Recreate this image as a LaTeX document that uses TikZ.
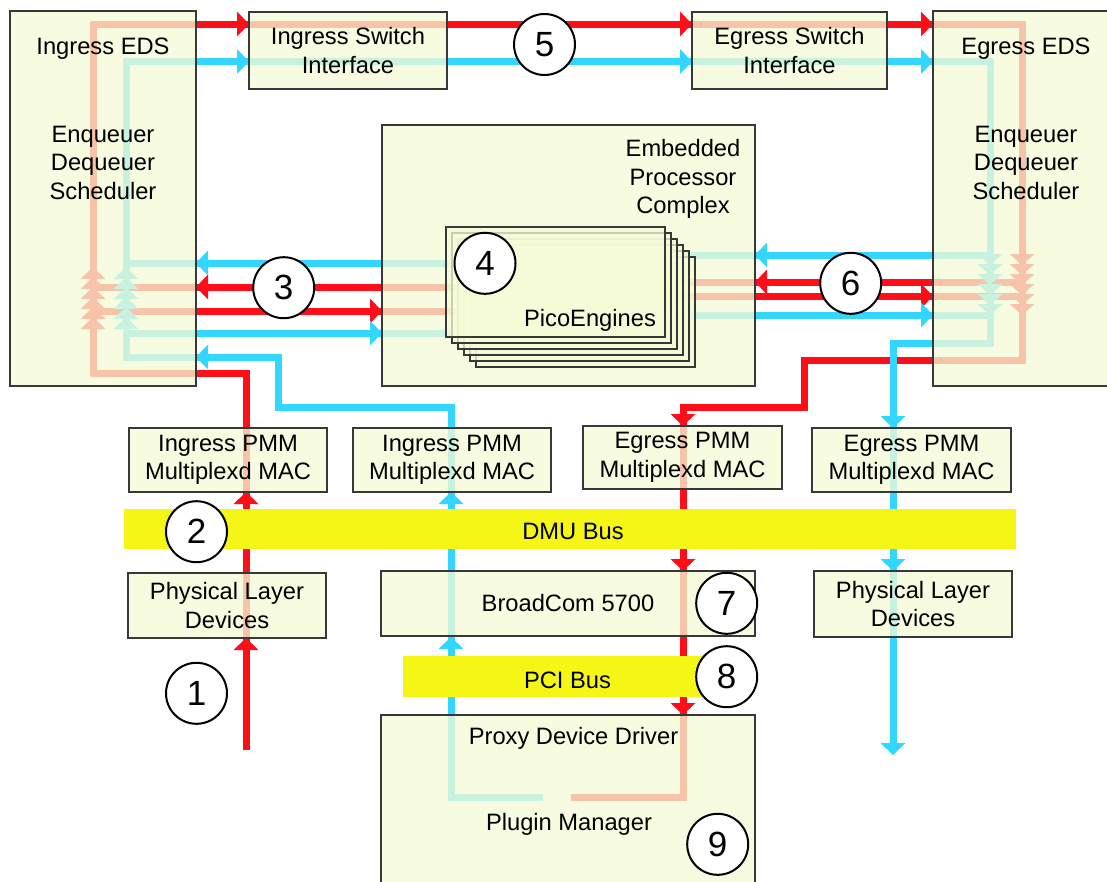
\documentclass[tikz,border=0pt]{standalone}
\usepackage{fontspec}
\setmainfont{Liberation Sans}
\usetikzlibrary{arrows.meta}
\definecolor{redl}{RGB}{255,14,26}
\definecolor{bluel}{RGB}{51,214,255}
\definecolor{boxfill}{RGB}{245,251,214}
\definecolor{boxline}{RGB}{56,56,56}
\definecolor{busfill}{RGB}{246,246,22}
\newcommand\diagfont{\fontsize{23.7}{28.5}\selectfont}
\newcommand\numfont{\fontsize{35}{40}\selectfont}
\newcommand\tipR[2]{\fill[#1] (#2) -- ++(-12,-12.5) -- ++(0,25) -- cycle;}
\newcommand\tipL[2]{\fill[#1] (#2) -- ++(12,-12.5) -- ++(0,25) -- cycle;}
\newcommand\tipU[2]{\fill[#1] (#2) -- ++(-12.5,12) -- ++(25,0) -- cycle;}
\newcommand\tipD[2]{\fill[#1] (#2) -- ++(-12.5,-12) -- ++(25,0) -- cycle;}
\begin{document}
\begin{tikzpicture}[x=1pt,y=-1pt,
  redline/.style={draw=redl,line width=7pt,line join=miter},
  blueline/.style={draw=bluel,line width=7pt,line join=miter},
  box/.style={draw=boxline,line width=2.6pt,fill=boxfill,fill opacity=0.77,text opacity=1,draw opacity=1,inner sep=0pt,align=center,font=\diagfont},
  bus/.style={fill=busfill,draw=none,inner sep=0pt},
  lbl/.style={font=\diagfont,align=center,inner sep=0pt},
  num/.style={circle,draw=black,line width=2pt,fill=white,minimum size=61pt,inner sep=0pt,font=\numfont}]
\useasboundingbox (0,0) rectangle (1107,881);
\clip (0,0) rectangle (1107,881);
\fill[white] (0,0) rectangle (1107,881);

% ---------- waypoints ----------
\coordinate (rStart) at (246,750);
\coordinate (bStart) at (543,797);
\coordinate (rEnd) at (571,797);

% ---------- connectors (drawn below the boxes) ----------
\draw[redline] (rStart) -- (246,373) -- (93,373) -- (93,24) -- (1022,24) -- (1022,360) -- (804,360) -- (804,407) -- (683,407) -- (683,797) -- (rEnd);
\draw[blueline] (bStart) -- (451,797) -- (451,407) -- (278,407) -- (278,357) -- (126,357) -- (126,61.5) -- (990,61.5) -- (990,343) -- (893,343) -- (893,745);

\draw[blueline] (126,263) -- (455,263);
\draw[redline] (93,287) -- (455,287);
\draw[redline] (93,311) -- (455,311);
\draw[blueline] (126,333) -- (455,333);
\draw[blueline] (660,255) -- (990,255);
\draw[redline] (660,282) -- (1022,282);
\draw[redline] (660,296) -- (1022,296);
\draw[blueline] (660,315) -- (990,315);

% arrow tips
\tipR{redl}{249,24} \tipR{redl}{692,24} \tipR{redl}{933,24}
\tipR{bluel}{249,61.5} \tipR{bluel}{692,61.5} \tipR{bluel}{933,61.5}
\tipU{redl}{246,638} \tipU{redl}{246,492}
\tipU{bluel}{451,637} \tipU{bluel}{451,492}
\tipL{bluel}{196,357}
\tipD{redl}{683,426} \tipD{redl}{683,571} \tipD{redl}{683,715}
\tipD{bluel}{893,428} \tipD{bluel}{893,571} \tipD{bluel}{893,755}
\tipL{bluel}{196,263} \tipL{redl}{196,287}
\tipR{redl}{382,311} \tipR{bluel}{382,333}
\tipL{bluel}{755,255} \tipL{redl}{755,282}
\tipR{redl}{933,296} \tipR{bluel}{933,315}

% stacked arrowheads inside the EDS blocks
\foreach \k in {0,...,5}{
  \fill[redl] (93,{267+10*\k}) -- ++(-12.5,12) -- ++(25,0) -- cycle;
  \fill[bluel] (126,{267+10*\k}) -- ++(-12.5,12) -- ++(25,0) -- cycle;
  \fill[bluel] (990,{265+10*\k}) -- ++(-12.5,-11) -- ++(25,0) -- cycle;
  \fill[redl] (1022,{265+10*\k}) -- ++(-12.5,-11) -- ++(25,0) -- cycle;
}

% ---------- boxes ----------
\node[box,minimum width=186pt,minimum height=375pt] (ieds) at (103,198.5) {};
\node[box,minimum width=186pt,minimum height=375pt] (eeds) at (1026,198.5) {};
\node[box,minimum width=198pt,minimum height=77pt] (isi) at (348,50.5) {Ingress Switch\\Interface};
\node[box,minimum width=195pt,minimum height=77pt] (esi) at (789.5,50.5) {Egress Switch\\Interface};
\node[box,minimum width=373pt,minimum height=261pt] (epc) at (568.5,255.5) {};
\foreach \k in {5,4,3,2,1}{
  \node[box,line width=2.2pt,minimum width=219pt,minimum height=110pt] at ({555.5+6*\k},{282+6*\k}) {};
}
\node[box,line width=2.2pt,minimum width=219pt,minimum height=110pt] (pico) at (555.5,282) {};
\node[box,minimum width=198pt,minimum height=64pt] (ipmm1) at (228,460) {Ingress PMM\\Multiplexd MAC};
\node[box,minimum width=198pt,minimum height=64pt] (ipmm2) at (452,460) {Ingress PMM\\Multiplexd MAC};
\node[box,minimum width=199pt,minimum height=63pt] (epmm1) at (682.5,457.5) {Egress PMM\\Multiplexd MAC};
\node[box,minimum width=199pt,minimum height=64pt] (epmm2) at (911.5,460) {Egress PMM\\Multiplexd MAC};
\node[box,minimum width=198pt,minimum height=65pt] (pl1) at (227,605.5) {Physical Layer\\Devices};
\node[box,minimum width=198pt,minimum height=66pt] (pl2) at (913,604) {Physical Layer\\Devices};
\node[box,minimum width=374pt,minimum height=65pt] (bc) at (568,603.5) {BroadCom 5700};
\node[box,minimum width=374pt,minimum height=185pt] (pdd) at (568,807.5) {};

% buses
\node[bus,minimum width=892pt,minimum height=40pt] (dmu) at (570,529) {};
\node[bus,minimum width=312pt,minimum height=41pt] (pci) at (559,676.5) {};

% ---------- labels ----------
\node[lbl,anchor=base] at (103,54) {Ingress EDS};
\node[lbl] at (103,162.5) {Enqueuer\\Dequeuer\\Scheduler};
\node[lbl,anchor=base] at (1026,54) {Egress EDS};
\node[lbl] at (1026,162.5) {Enqueuer\\Dequeuer\\Scheduler};
\node[lbl] at (683,179) {Embedded\\Processor\\Complex};
\node[lbl,anchor=base] at (590,326.7) {PicoEngines};
\node[lbl,anchor=base] at (573,539.3) {DMU Bus};
\node[lbl,anchor=base] at (567.5,688.3) {PCI Bus};
\node[lbl,anchor=base] at (573.5,744.3) {Proxy Device Driver};
\node[lbl,anchor=base] at (569,830) {Plugin Manager};

% ---------- numbered markers ----------
\node[num] (n1) at (196.5,693.3) {1};
\node[num] (n2) at (196.5,531.7) {2};
\node[num] (n3) at (283.7,287.7) {3};
\node[num] (n4) at (485,263.3) {4};
\node[num] (n5) at (544.5,44.5) {5};
\node[num] (n6) at (850.7,283.3) {6};
\node[num] (n7) at (726.7,603.3) {7};
\node[num] (n8) at (726.7,676.7) {8};
\node[num] (n9) at (717.7,844.3) {9};
\end{tikzpicture}
\end{document}
